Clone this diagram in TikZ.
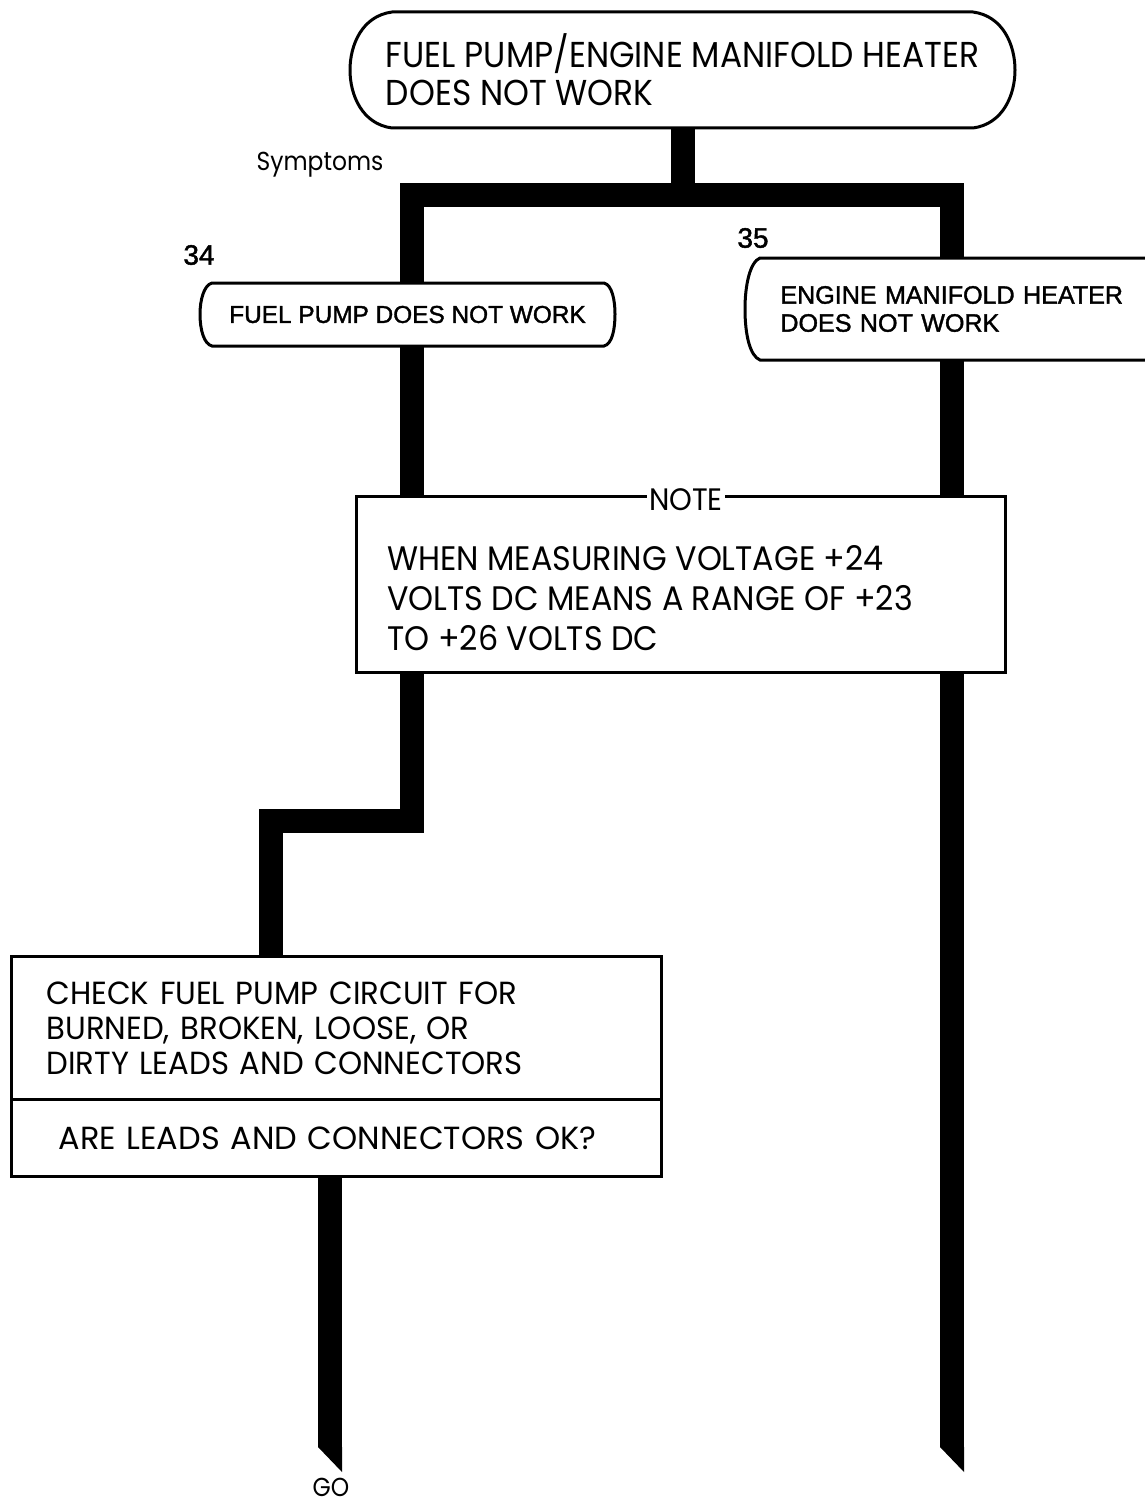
\documentclass[tikz,border=0pt]{standalone}
\usepackage{fontspec}
\newfontfamily\futA{Poppins}[FakeStretch=0.915]
\newfontfamily\futB{Poppins}[FakeStretch=0.935]
\newfontfamily\futC{Poppins}[FakeStretch=0.96]
\newfontfamily\futD{Poppins}
\newfontfamily\futS{Poppins}[FakeStretch=0.9]
\newfontfamily\hel{Liberation Sans}[FakeBold=1.5]
\usetikzlibrary{backgrounds}
\begin{document}
\begin{tikzpicture}[x=0.5pt,y=-0.5pt,
  border/.style={line width=1.5pt},
  flow/.style={line width=12pt, line join=miter, line cap=butt},
  termfont/.style={font={\futA\fontsize{18}{19}\selectfont}},
  notefont/.style={font={\futB\fontsize{17}{20}\selectfont}},
  checkfont/.style={font={\futC\fontsize{16}{17.5}\selectfont}},
  askfont/.style={font={\futD\fontsize{16}{17.5}\selectfont}},
  symfont/.style={font={\hel\fontsize{12.2}{14}\selectfont}},
  symfontB/.style={font={\hel\fontsize{12.55}{14}\selectfont}},
  numfont/.style={font={\hel\fontsize{14}{16}\selectfont}},
  smallfut/.style={font={\futS\fontsize{13}{15}\selectfont}}]
\useasboundingbox (0,0) rectangle (1145,1504);
\begin{pgfonlayer}{background}
\fill[white] (0,0) rectangle (1145,1504);
\end{pgfonlayer}

% terminator
\node[termfont, align=left, minimum width=332.5pt, minimum height=58pt, inner sep=0] (term) at (682.5,70)
  {FUEL PUMP/ENGINE MANIFOLD HEATER\\DOES NOT WORK};
\draw[border] (392,12) -- (973,12) .. controls (1003,16) and (1015,45) .. (1015,70)
  .. controls (1015,95) and (1003,124) .. (973,128) -- (392,128)
  .. controls (362,124) and (350,95) .. (350,70) .. controls (350,45) and (362,16) .. (392,12) -- cycle;

\node[smallfut, inner sep=0] (sym) at (320,165) {Symptoms};

% symptom 34
\node[numfont, inner sep=0] (n34) at (199,255) {34};
\node[symfont, minimum width=207.5pt, minimum height=31.5pt, inner sep=0] (b34) at (407.5,314.5) {FUEL PUMP DOES NOT WORK};
\draw[border] (212,283) -- (604,283) .. controls (612,285) and (615,300) .. (615,314)
  .. controls (615,330) and (612,344) .. (604,346) -- (212,346)
  .. controls (204,344) and (200,330) .. (200,314) .. controls (200,300) and (204,285) .. (212,283) -- cycle;

% symptom 35
\node[numfont, inner sep=0] (n35) at (753,238) {35};
\node[symfontB, align=left, anchor=west, minimum height=51pt, text width=200pt, inner xsep=17.5pt, inner ysep=0] (b35) at (745,309)
  {ENGINE MANIFOLD HEATER\\DOES NOT WORK};
\draw[border] (1160,258) -- (760,258) .. controls (750,262) and (745,285) .. (745,309)
  .. controls (745,335) and (750,356) .. (760,360) -- (1160,360);

% note
\node[fill=white, minimum width=324pt, minimum height=87.5pt, inner sep=0] (note) at (681,584.5) {};
\node[notefont, align=left, anchor=north west, inner sep=0] (notetxt) at (387,545)
  {WHEN MEASURING VOLTAGE +24\\VOLTS DC MEANS A RANGE OF +23\\TO +26 VOLTS DC};
\node[font={\futB\fontsize{15.5}{17}\selectfont}, inner xsep=1pt, inner ysep=0] (notelbl) at (686,500) {NOTE};
\draw[border] (notelbl.west |- note.north) -- (note.north west) -- (note.south west)
  -- (note.south east) -- (note.north east) -- (notelbl.east |- note.north);

% check box
\node[draw, border, fill=white, checkfont, align=left, anchor=north west, text width=290pt,
      inner xsep=17.5pt, inner ysep=0, minimum height=71.5pt] (check) at (10,955)
  {CHECK FUEL PUMP CIRCUIT FOR\\BURNED, BROKEN, LOOSE, OR\\DIRTY LEADS AND CONNECTORS};
\node[draw, border, fill=white, askfont, align=left, anchor=north west, text width=290pt,
      inner xsep=17.5pt, inner ysep=0, minimum height=38.5pt] (ask) at (10,1098)
  {\hspace*{6pt}ARE LEADS AND CONNECTORS OK?};

\node[smallfut, inner sep=0, anchor=base] (go) at (331,1496) {GO};

% connectors
\coordinate (jT) at (682.5,195);
\coordinate (jL) at (412,195);
\coordinate (jR) at (952,195);
\coordinate (sA) at (412,821);
\coordinate (sB) at (271,821);
\coordinate (endL) at (330,1447);
\coordinate (endR) at (952,1447);
\begin{pgfonlayer}{background}
\draw[flow] (term.south) -- (jT);
\draw[flow] (jL |- b34.north) -- (jL) -- (jR) -- (jR |- b35.north);
\draw[flow] (jL |- b34.south) -- (jL |- note.north);
\draw[flow] (jR |- b35.south) -- (jR |- note.north);
\draw[flow] (jL |- note.south) -- (sA) -- (sB) -- (sB |- check.north);
\draw[flow] (endL |- ask.south) -- (endL);
\fill (endL) ++(-12,0) -- ++(24,0) -- ++(0,25) -- cycle;
\draw[flow] (jR |- note.south) -- (endR);
\fill (endR) ++(-12,0) -- ++(24,0) -- ++(0,25) -- cycle;
\end{pgfonlayer}
\end{tikzpicture}
\end{document}
